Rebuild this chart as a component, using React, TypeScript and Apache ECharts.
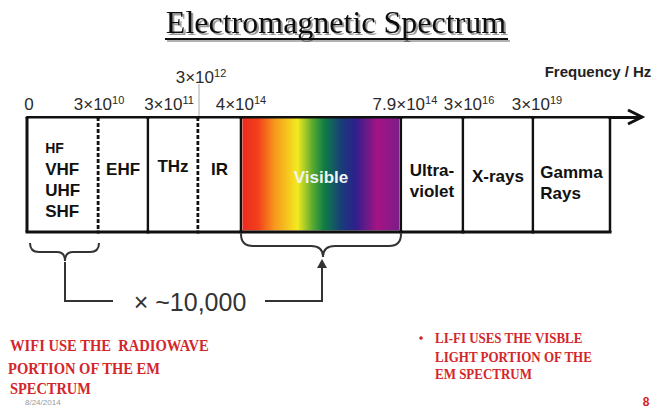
import React, { useEffect, useRef } from "react";
import * as echarts from "echarts";

// ---------- data ----------
const bandNames = ["Radio", "EHF", "THz", "IR", "Visible", "Ultraviolet", "X-rays", "Gamma Rays"];
const bandLabels = [["HF", "VHF", "UHF", "SHF"], ["EHF"], ["THz"], ["IR"], ["Visible"], ["Ultra-", "violet"], ["X-rays"], ["Gamma", "Rays"]];
// schematic (non-linear) position of band edges along the frequency axis, 0..100
const bandEdges = [0, 11.6, 19.7, 27.85, 34.85, 60.9, 71.0, 82.4, 94.95];
const dashedRightEdge = [true, false, true, false, false, false, false, false];

const tickBase = ["0", "3×10", "3×10", "3×10", "4×10", "7.9×10", "3×10", "3×10"];
const tickExp = ["", "10", "11", "12", "14", "14", "16", "19"];
const tickPos = [0.33, 11.73, 23.13, 28.34, 34.85, 61.56, 71.99, 83.06];
const tickRow = [0, 0, 0, 1, 0, 0, 0, 0];

const titleText = "Electromagnetic Spectrum";
const axisTitle = "Frequency / Hz";
const ratioText = "× ~10,000";
const leftNote = ["WIFI USE THE  RADIOWAVE", "PORTION OF THE EM", "SPECTRUM"];
const rightNote = ["LI-FI USES THE VISBLE", "LIGHT PORTION OF THE", "EM SPECTRUM"];
const dateText = "8/24/2014";
const pageNo = "8";

// ---------- layout / style ----------
const labelDy = [5, -5, -8, -5, 3, 6, 2, 8];
const smallLabels = new Set(["HF"]);
const SANS = '"Liberation Sans", Arial, sans-serif';
const SERIF = '"Liberation Serif", "Times New Roman", serif';
const RED = "#d3262b";
const visibleStops = [
  { offset: 0, color: "#ee2a1e" },
  { offset: 0.1, color: "#f2401c" },
  { offset: 0.2, color: "#f7941d" },
  { offset: 0.35, color: "#f4ea1f" },
  { offset: 0.45, color: "#55a832" },
  { offset: 0.52, color: "#0f7d44" },
  { offset: 0.63, color: "#173d7a" },
  { offset: 0.72, color: "#2e1f8c" },
  { offset: 0.86, color: "#a51384" },
  { offset: 1, color: "#7c1c8a" },
];

echarts.graphic.registerShape(
  "braceLeft",
  echarts.graphic.extendPath("M0 0 Q0 9 9 9 L27 9 Q35 9 35 18 Q35 9 43 9 L60 9 Q69 9 69 0", {})
);
echarts.graphic.registerShape(
  "braceRight",
  echarts.graphic.extendPath("M0 0 Q0 12 12 12 L70 12 Q82 12 82 23 Q82 12 94 12 L148 12 Q160 12 160 0", {})
);

let ctx: CanvasRenderingContext2D | null = null;
function measure(t: string, font: string) {
  if (!ctx) ctx = document.createElement("canvas").getContext("2d");
  if (!ctx) return t.length * 8;
  ctx.font = font;
  return ctx.measureText(t).width;
}

export default function App() {
  const ref = useRef<HTMLDivElement>(null);
  useEffect(() => {
    if (!ref.current) return;
    const chart = echarts.init(ref.current, undefined, { renderer: "svg" });

    const bandData = bandNames.map((n, i) => [bandEdges[i], bandEdges[i + 1], i]);
    const tickData = tickBase.map((b, i) => [tickPos[i], tickRow[i], i]);

    const renderBand = (params: any, api: any) => {
      const i = api.value(2);
      const p0 = api.coord([api.value(0), 1]);
      const p1 = api.coord([api.value(1), 0]);
      const x0 = p0[0], y0 = p0[1], x1 = p1[0], y1 = p1[1];
      const isVis = bandNames[i] === "Visible";
      const children: any[] = [];
      children.push({
        type: "rect",
        shape: { x: x0 + 1.5, y: y0 + 1.5, width: x1 - x0 - 3, height: y1 - y0 - 3 },
        style: { fill: isVis ? new echarts.graphic.LinearGradient(0, 0, 1, 0, visibleStops) : "#fff" },
      });
      children.push({ type: "line", shape: { x1: x0 - 1.5, y1: y1, x2: x1 + 1.5, y2: y1 }, style: { stroke: "#111", lineWidth: 3 } });
      if (i === 0) {
        children.push({ type: "line", shape: { x1: x0, y1: y0, x2: x0, y2: y1 }, style: { stroke: "#111", lineWidth: 3 } });
      }
      children.push({
        type: "line",
        shape: { x1: x1, y1: y0, x2: x1, y2: y1 },
        style: { stroke: "#111", lineWidth: dashedRightEdge[i] ? 3 : 2.5, lineDash: dashedRightEdge[i] ? [4, 2] : null },
      });
      const lines = bandLabels[i];
      const fontOf = (l: string) => `bold ${smallLabels.has(l) ? 14 : 17}px ${SANS}`;
      const w = Math.max(...lines.map((l) => measure(l, fontOf(l))));
      const cx = (x0 + x1) / 2;
      const cy = (y0 + y1) / 2 + labelDy[i];
      const fill = isVis ? "#eef3f3" : "#111";
      children.push({
        type: "text",
        style: {
          text: lines.map((l) => `{${smallLabels.has(l) ? "s" : "n"}|${l}}`).join("\n"),
          x: cx - w / 2,
          y: cy,
          align: "left",
          verticalAlign: "middle",
          fill,
          font: `bold 17px ${SANS}`,
          rich: {
            s: { fontSize: 14, fontWeight: "bold", fontFamily: SANS, fill, lineHeight: 21 },
            n: { fontSize: 17, fontWeight: "bold", fontFamily: SANS, fill, lineHeight: 21 },
          },
        },
      });
      return { type: "group", children };
    };

    const renderTick = (params: any, api: any) => {
      const i = api.value(2);
      const row = api.value(1);
      const p = api.coord([api.value(0), 1]);
      const x = p[0];
      const yTop = p[1];
      const y = yTop - (row ? 40 : 13);
      const children: any[] = [
        {
          type: "text",
          style: {
            text: tickExp[i] ? `${tickBase[i]}{sup|${tickExp[i]}}` : tickBase[i],
            x,
            y,
            align: "center",
            verticalAlign: "middle",
            fill: "#2a2a2a",
            font: `17px ${SANS}`,
            lineHeight: 20,
            rich: {
              sup: { fontSize: 11, fontFamily: SANS, fill: "#2a2a2a", verticalAlign: "top", lineHeight: 11 },
            },
          },
        },
      ];
      if (row) {
        children.push({ type: "line", shape: { x1: x - 2, y1: y + 7, x2: x - 2, y2: yTop - 1 }, style: { stroke: "#aaa", lineWidth: 1 } });
      }
      return { type: "group", children };
    };

    const annot = (lines: string[], xs: number[], ys: number[], ws: number[], size: number) =>
      lines.map((t, k) => {
        const font = `bold ${size}px ${SERIF}`;
        return {
          type: "text",
          x: xs[k],
          y: ys[k],
          scaleX: ws[k] / measure(t, font),
          style: { text: t, font, fill: RED, align: "left", verticalAlign: "middle" },
        };
      });

    chart.setOption({
      animation: false,
      backgroundColor: "#fff",
      grid: { left: 27, top: 117, width: 614, height: 115 },
      xAxis: {
        type: "value",
        min: 0,
        max: 100,
        position: "top",
        axisLine: { show: true, onZero: false, lineStyle: { color: "#111", width: 3 } },
        axisTick: { show: false },
        axisLabel: { show: false },
        splitLine: { show: false },
      },
      yAxis: { type: "value", min: 0, max: 1, show: false },
      series: [
        { type: "custom", renderItem: renderBand, data: bandData, encode: { x: [0, 1] }, silent: true },
        { type: "custom", renderItem: renderTick, data: tickData, encode: { x: 0 }, silent: true },
      ],
      graphic: [
        { type: "rect", shape: { x: 167, y: 40, width: 343, height: 2 }, style: { fill: "rgba(0,0,0,0.3)" } },
        { type: "rect", shape: { x: 165, y: 38, width: 343, height: 2 }, style: { fill: "#111" } },
        {
          type: "text",
          x: 336,
          y: 22,
          style: {
            text: titleText,
            font: `32px ${SERIF}`,
            fill: "#111",
            align: "center",
            verticalAlign: "middle",
            textShadowColor: "rgba(0,0,0,0.4)",
            textShadowOffsetX: 2,
            textShadowOffsetY: 2,
            textShadowBlur: 1,
          },
        },
        {
          type: "text",
          x: 598,
          y: 71,
          style: { text: axisTitle, font: `bold 15px ${SANS}`, fill: "#222", align: "center", verticalAlign: "middle" },
        },
        {
          type: "polyline",
          shape: { points: [[628, 110], [642, 117], [628, 124]] },
          style: { stroke: "#111", lineWidth: 3, fill: "none" },
        },
        { type: "braceLeft", x: 30, y: 243, style: { stroke: "#333", lineWidth: 2, fill: "none" } },
        { type: "braceRight", x: 241, y: 234, style: { stroke: "#333", lineWidth: 2, fill: "none" } },
        {
          type: "polyline",
          shape: { points: [[65, 262], [65, 301], [113, 301]] },
          style: { stroke: "#333", lineWidth: 2, fill: "none" },
        },
        {
          type: "polyline",
          shape: { points: [[265, 301], [322, 301], [322, 266]] },
          style: { stroke: "#333", lineWidth: 2, fill: "none" },
        },
        { type: "polygon", shape: { points: [[317, 268], [322, 259], [327, 268]] }, style: { fill: "#333" } },
        {
          type: "text",
          x: 190,
          y: 302,
          style: { text: ratioText, font: `25px ${SANS}`, fill: "#333", align: "center", verticalAlign: "middle" },
        },
        ...annot(leftNote, [10, 8, 10], [345, 368, 388], [199, 153, 81], 16),
        ...annot(rightNote, [435, 435, 435], [338, 357, 374], [148, 158, 97], 15),
        { type: "circle", shape: { cx: 421, cy: 338, r: 1.8 }, style: { fill: RED } },
        {
          type: "text",
          x: 25,
          y: 402,
          style: { text: dateText, font: `8px ${SANS}`, fill: "#999", align: "left", verticalAlign: "middle" },
        },
        {
          type: "text",
          x: 646,
          y: 402,
          style: { text: pageNo, font: `bold 12px ${SANS}`, fill: RED, align: "center", verticalAlign: "middle" },
        },
      ],
    });
    return () => chart.dispose();
  }, []);
  return (
    <div
      ref={ref}
      style={{ position: "absolute", left: 0, top: 0, width: 660, height: 409, background: "#fff" }}
    />
  );
}
